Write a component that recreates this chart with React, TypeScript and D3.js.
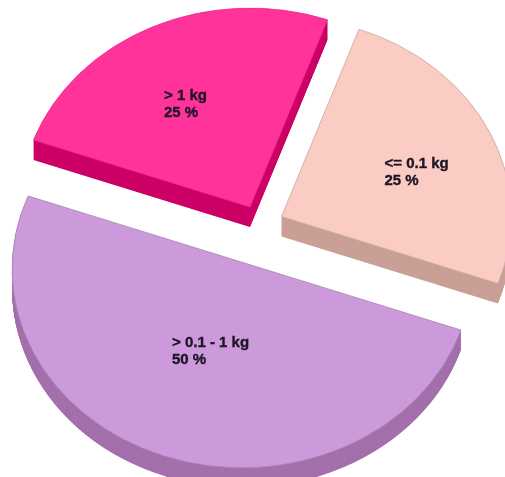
import React from "react";
import * as d3 from "d3";

const categories = ["<= 0.1 kg", "> 0.1 - 1 kg", "> 1 kg"];
const shares = [25, 50, 25];
const percentLabels = ["25 %", "50 %", "25 %"];
const topColors = ["#FBCCC3", "#CC99DB", "#FF3399"];
const sideColors = ["#C9A096", "#A470AC", "#CC0066"];
const edgeColors = ["#c9aba6", "#a688b0", "#ee2c90"];
const apexX = [281.5, 244.5, 250];
const apexY = [216.5, 263, 207];
const labelX = [384.5, 172, 164];
const labelY = [168, 347, 100];

const WIDTH = 505;
const HEIGHT = 477;
const RX = 230;
const RY = 199;
const DEPTH = 20;
const START_DEG = 19.7;

export default function App() {
  const start = (START_DEG * Math.PI) / 180;
  const slices = d3
    .pie<number>()
    .sort(null)
    .startAngle(start)
    .endAngle(start + 2 * Math.PI)(shares);
  const arc = d3.arc<d3.PieArcDatum<number>>().innerRadius(0).outerRadius(1);
  const layers = d3.range(DEPTH, 0, -0.5);

  return (
    <svg
      width={WIDTH}
      height={HEIGHT}
      viewBox={`0 0 ${WIDTH} ${HEIGHT}`}
      style={{ position: "fixed", left: 0, top: 0, background: "#fff" }}
    >
      <defs>
        <filter id="soft" x="-10%" y="-10%" width="120%" height="120%">
          <feGaussianBlur stdDeviation="0.4" />
        </filter>
      </defs>
      {slices.map((s, i) => (
        <g key={categories[i]} transform={`translate(${apexX[i]},${apexY[i]})`}>
          {layers.map((k) => (
            <path
              key={k}
              d={arc(s) ?? ""}
              fill={sideColors[i]}
              transform={`translate(0,${k}) scale(${RX},${RY})`}
            />
          ))}
          <path
            d={arc(s) ?? ""}
            fill={topColors[i]}
            stroke={edgeColors[i]}
            strokeWidth={0.8}
            vectorEffect="non-scaling-stroke"
            transform={`scale(${RX},${RY})`}
          />
        </g>
      ))}
      {slices.map((s, i) => (
        <text
          key={categories[i]}
          x={labelX[i]}
          y={labelY[i]}
          fontFamily="'Liberation Sans', Arial, sans-serif"
          fontWeight="bold"
          fontSize={15}
          fill="#1c1426"
          stroke="#1c1426"
          strokeWidth={0.35}
          filter="url(#soft)"
        >
          <tspan x={labelX[i]}>{categories[i]}</tspan>
          <tspan x={labelX[i]} dy={16.5}>
            {percentLabels[i]}
          </tspan>
        </text>
      ))}
    </svg>
  );
}
